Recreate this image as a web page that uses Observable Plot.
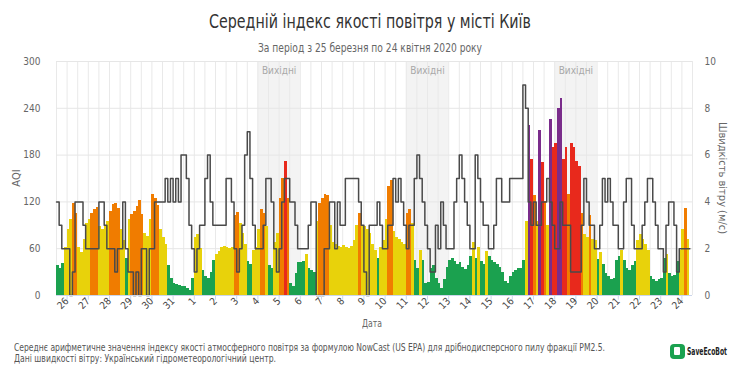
<!DOCTYPE html>
<html>
<head>
<meta charset="utf-8">
<script src="https://cdn.jsdelivr.net/npm/d3@7"></script>
<script src="https://cdn.jsdelivr.net/npm/@observablehq/plot@0.6"></script>
<style>
  html, body { margin: 0; padding: 0; background: #fff; }
  body { font-family: "Liberation Sans Narrow", "DejaVu Sans Condensed", "Open Sans", sans-serif; }
  #wrap { position: relative; width: 740px; height: 370px; overflow: hidden; }
  #chart { position: absolute; left: 0; top: 50px; }
  .t { position: absolute; white-space: nowrap; }
  .fit { display: inline-block; transform-origin: 0 50%; }
  #title { top: 10px; font-size: 19px; color: #333; }
  #subtitle { top: 40px; font-size: 12.5px; color: #666; }
  #ylab { left: 16px; top: 178px; font-size: 11px; color: #666; transform: translate(-50%, -50%) rotate(-90deg); }
  #y2lab { left: 722px; top: 178px; font-size: 11px; color: #666; transform: translate(-50%, -50%) rotate(90deg); }
  #xlab { top: 317px; font-size: 11px; color: #666; }
  #cap1 { left: 14px; top: 342px; font-size: 10.5px; line-height: 11px; height: 11px; color: #555; }
  #cap2 { left: 14px; top: 353px; font-size: 10.5px; line-height: 11px; height: 11px; color: #555; }
  #logo { left: 670px; top: 343px; height: 16px; display: flex; align-items: center; }
  #logo .ic { width: 15px; height: 15px; border-radius: 4px; background: #1aa14f; position: relative; margin-right: 2px; }
  #logo .ic i { position: absolute; left: 4px; top: 3px; width: 6px; height: 8px; background: #fff; border-radius: 1px; }
  #logo span { font-weight: bold; font-size: 10.5px; color: #222; }
</style>
</head>
<body>
<div id="wrap">
  <div class="t fit" id="title">Середній індекс якості повітря у місті Київ</div>
  <div class="t fit" id="subtitle">За період з 25 березня по 24 квітня 2020 року</div>
  <div id="chart"></div>
  <div class="t" id="ylab">AQI</div>
  <div class="t" id="y2lab">Швидкість вітру (м/с)</div>
  <div class="t fit" id="xlab">Дата</div>
  <div class="t fit" id="cap1">Середнє арифметичне значення індексу якості атмосферного повітря за формулою NowCast (US EPA) для дрібнодисперсного пилу фракції PM2.5.</div>
  <div class="t fit" id="cap2">Дані швидкості вітру: Український гідрометеорологічний центр.</div>
  <div class="t" id="logo"><div class="ic"><i></i></div><span class="fit" id="logotext">SaveEcoBot</span></div>
</div>
<script>
// ---- Data: 3-hour steps starting 25 March 2020 12:00 ----
// AQI (NowCast PM2.5), 8 values per day
const aqiMar = [
  39, 35, 41, 62,                     // 25 Mar (12-24h)
  85, 97, 118, 105, 62, 55, 72, 92,   // 26
  98, 105, 110, 113, 88, 84, 88, 95,  // 27
  108, 117, 118, 112, 85, 70, 47, 98, // 28
  104, 108, 114, 122, 104, 80, 76, 98,// 29
  130, 125, 115, 85, 75, 65, 38, 22,  // 30
  16, 14, 13, 12, 11, 9, 7, 22        // 31
];
const aqiAprA = [
  75, 78, 60, 32, 24, 22, 30, 45,     // 1 Apr
  52, 56, 62, 63, 61, 60, 62, 102,    // 2
  106, 92, 80, 66, 44, 40, 58, 62,    // 3
  85, 110, 105, 88, 38, 35, 68, 80,   // 4
  125, 150, 172, 125, 15, 12, 28, 42, // 5
  42, 44, 52, 35, 32, 30, 95, 118,    // 6
  125, 130, 128, 90, 68, 65, 63, 62,  // 7
  64, 62, 60, 63, 70, 90, 105, 88,    // 8
  88, 85, 80, 65, 58, 47, 62, 70,     // 9
  97, 140, 148, 82, 75, 72, 68, 66,   // 10
  105, 110, 92, 45, 35, 58, 45, 15,   // 11
  17, 35, 38, 22, 15, 9, 20, 36       // 12
];
const aqiAprB = [
  45, 47, 44, 40, 42, 36, 33, 38,     // 13
  50, 68, 48, 62, 44, 40, 56, 50,     // 14
  45, 42, 40, 36, 30, 18, 16, 25,     // 15
  30, 32, 34, 35, 45, 95, 218, 175,   // 16
  128, 95, 212, 170, 120, 90, 226, 190, // 17
  195, 240, 253, 175, 190, 130, 195, 190, // 18
  172, 165, 105, 78, 75, 103, 72, 70, // 19
  46, 55, 40, 28, 25, 20, 22, 45,     // 20
  50, 58, 45, 35, 32, 38, 44, 70,     // 21
  78, 72, 66, 58, 24, 20, 18, 20,     // 22
  22, 48, 52, 28, 24, 26, 44, 58,     // 23
  85, 112, 72                         // 24 (0-9h)
];
// Wind speed, m/s, same 3-hour steps
const windMar = [
  4, 3, 2, 2,
  2, 0, 1, 4, 4, 4, 3, 2,
  2, 2, 2, 2, 4, 4, 3, 2,
  2, 2, 1, 2, 2, 4, 2, 1,
  1, 0, 1, 0, 2, 2, 0, 2,
  2, 4, 4, 4, 4, 5, 4, 5,
  4, 5, 4, 6, 6, 5, 3, 2
];
const windAprA = [
  1, 2, 3, 3, 5, 6, 4, 3,
  3, 3, 3, 3, 5, 5, 4, 2,
  1, 2, 3, 6, 7, 5, 3, 2,
  2, 2, 3, 5, 5, 4, 2, 1,
  2, 4, 5, 5, 4, 4, 3, 2,
  2, 2, 2, 3, 4, 4, 0, 0,
  0, 2, 2, 4, 4, 2, 4, 3,
  3, 5, 5, 5, 5, 5, 4, 3,
  1, 0, 3, 3, 3, 4, 3, 2,
  2, 3, 3, 5, 4, 5, 4, 3,
  2, 3, 3, 5, 6, 5, 4, 3,
  2, 1, 1, 3, 2, 4, 3, 2
];
const windAprB = [
  2, 2, 4, 5, 6, 5, 4, 3,
  2, 2, 6, 5, 4, 3, 3, 2,
  2, 3, 5, 5, 4, 4, 4, 5,
  5, 5, 5, 5, 9, 8, 4, 3,
  4, 3, 3, 4, 4, 5, 4, 3,
  2, 2, 4, 3, 3, 3, 1, 1,
  1, 1, 3, 5, 4, 3, 3, 2,
  2, 3, 5, 4, 5, 4, 3, 3,
  2, 2, 4, 5, 5, 3, 2, 2,
  2, 3, 4, 5, 5, 4, 3, 2,
  2, 1, 3, 4, 4, 3, 1, 2,
  2, 2, 2
];
const aqiTicks = [0, 60, 120, 180, 240, 300];
const weekendDays = [[4, 6], [11, 13], [18, 20]]; // April: start day, end day
const weekendLabel = "Вихідні";
const aqiColors = ["#1ba14f", "#e8d20b", "#f07c00", "#e8291c", "#7a2c8b"];
const aqiBreaks = [50.5, 100.5, 150.5, 200.5];

// ---- Build tables ----
const H = 3600 * 1000;
const t0 = Date.UTC(2020, 2, 25, 12);
const tEnd = Date.UTC(2020, 3, 24, 12);
const aqi = [...aqiMar, ...aqiAprA, ...aqiAprB];
const wind = [...windMar, ...windAprA, ...windAprB];
const bars = aqi.map((v, i) => ({t1: new Date(t0 + i * 3 * H), t2: new Date(t0 + (i + 1) * 3 * H), v}));
const windPts = wind.map((w, i) => ({t: new Date(t0 + i * 3 * H), w}));
windPts.push({t: new Date(t0 + wind.length * 3 * H), w: wind[wind.length - 1]});
const weekends = weekendDays.map(([a, b]) => ({s: new Date(Date.UTC(2020, 3, a)), e: new Date(Date.UTC(2020, 3, b)), m: new Date((Date.UTC(2020, 3, a) + Date.UTC(2020, 3, b)) / 2)}));
const grid12 = d3.range(t0, tEnd + 1, 12 * H).map(t => new Date(t));
const dayTicks = d3.range(Date.UTC(2020, 2, 26), Date.UTC(2020, 3, 24) + 1, 24 * H).map(t => new Date(t));

const chart = Plot.plot({
  width: 740,
  height: 275,
  marginTop: 11,
  marginBottom: 30,
  marginLeft: 56,
  marginRight: 48,
  style: {fontFamily: '"Liberation Sans Narrow", "DejaVu Sans Condensed", sans-serif', fontSize: "10px", color: "#666", background: "transparent"},
  x: {type: "utc", domain: [new Date(t0), new Date(tEnd)]},
  y: {type: "linear", domain: [0, 300]},
  color: {type: "threshold", domain: aqiBreaks, range: aqiColors},
  marks: [
    Plot.rect(weekends, {x1: "s", x2: "e", y1: 0, y2: 300, fill: "#f3f3f3"}),
    Plot.ruleX(grid12, {y1: 0, y2: 300, stroke: "#e9e9e9", strokeWidth: 1}),
    Plot.ruleY(aqiTicks, {stroke: "#e6e6e6", strokeWidth: 1}),
    Plot.rectY(bars, {x1: "t1", x2: "t2", y: "v", fill: "v", inset: 0, shapeRendering: "crispEdges"}),
    Plot.text(weekends, {x: "m", y: 300, dy: 9, text: () => weekendLabel, fill: "#a8a8a8", fontSize: 10}),
    Plot.line(windPts, {x: "t", y: d => d.w * 30, curve: "step-after", stroke: "#4a4a4a", strokeWidth: 1.5}),
    Plot.ruleY([0], {stroke: "#ccd6eb"}),
    Plot.ruleX(dayTicks, {y1: 0, y2: -6, stroke: "#ccd6eb", clip: false}),
    Plot.axisY(aqiTicks, {anchor: "left", tickSize: 0, tickPadding: 16, label: null, fill: "#666"}),
    Plot.axisY(aqiTicks, {anchor: "right", tickSize: 0, tickPadding: 12, label: null, tickFormat: d => d / 30, fill: "#666"}),
    Plot.axisX(dayTicks, {tickSize: 0, tickPadding: 4, tickRotate: -45, label: null, tickFormat: d => d.getUTCDate(), fill: "#444", fontSize: 10})
  ]
});
document.getElementById("chart").appendChild(chart);

// fit HTML texts to the widths measured on the reference
function fit(id, width, left, center) {
  const el = document.getElementById(id);
  const w = el.getBoundingClientRect().width;
  const s = width / w;
  const l = center ? center - width / 2 : left;
  if (!el.closest("#logo")) el.style.left = l + "px";
  el.style.transform = "scaleX(" + s + ")";
}
fit("title", 322, 0, 370);
fit("subtitle", 224, 0, 370);
fit("xlab", 20, 0, 372);
fit("cap1", 591, 14);
fit("cap2", 262, 14);
fit("logotext", 40, 0);
</script>
</body>
</html>
